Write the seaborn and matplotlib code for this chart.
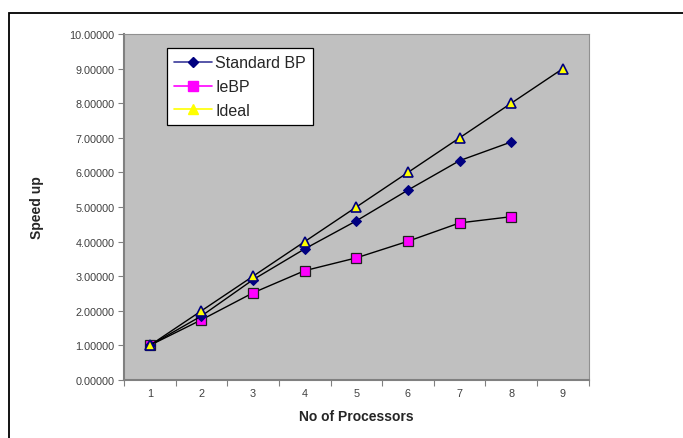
import matplotlib
matplotlib.use("Agg")
import matplotlib.pyplot as plt
import seaborn as sns
import pandas as pd
from matplotlib.lines import Line2D
from matplotlib.patches import Rectangle

processors = [1, 2, 3, 4, 5, 6, 7, 8, 9]
standard_bp = [1.00, 1.85, 2.90, 3.79, 4.60, 5.49, 6.34, 6.88]
iebp = [1.00, 1.74, 2.52, 3.16, 3.53, 4.01, 4.54, 4.72]
ideal = [1, 2, 3, 4, 5, 6, 7, 8, 9]
y_ticks = [0, 1, 2, 3, 4, 5, 6, 7, 8, 9, 10]

sns.set_theme(style="white")
plt.rcParams['font.family'] = ['Liberation Sans', 'DejaVu Sans']

fig = plt.figure(figsize=(6.83, 4.39), dpi=100)
ax = fig.add_axes([124/683, 1-381/439, (588.7-124)/683, (381-35)/439])
ax.set_facecolor('#C0C0C0')

# outer frame (cropped at right/bottom)
fig.patches.append(Rectangle((9/683, -0.1), 1.2, (439-14)/439 + 0.1, transform=fig.transFigure,
                             fill=False, edgecolor='black', linewidth=1.3, zorder=0))

df_sbp = pd.DataFrame({"x": processors[:len(standard_bp)], "y": standard_bp})
df_ie = pd.DataFrame({"x": processors[:len(iebp)], "y": iebp})
df_id = pd.DataFrame({"x": processors[:len(ideal)], "y": ideal})

sns.lineplot(data=df_ie, x="x", y="y", ax=ax, color='black', linewidth=1.0,
             marker='s', markersize=7, markerfacecolor='#FF00FF', markeredgecolor='#202020',
             markeredgewidth=0.9, zorder=3)
sns.lineplot(data=df_sbp, x="x", y="y", ax=ax, color='black', linewidth=1.0,
             marker='D', markersize=5.5, markerfacecolor='#000080', markeredgecolor='#000080',
             zorder=4)
sns.lineplot(data=df_id, x="x", y="y", ax=ax, color='black', linewidth=1.0,
             marker='^', markersize=6.5, markerfacecolor='#FFFF00', markeredgecolor='#000080',
             markeredgewidth=1.2, zorder=5)

ax.set_xlim(0.5, 9.5)
ax.set_ylim(0, 10)
ax.set_yticks(y_ticks)
ax.set_yticklabels([f"{v:.5f}" for v in y_ticks])
ax.set_xticks(processors)
ax.set_xticklabels([str(p) for p in processors])
ax.set_xticks([p + 0.5 for p in [0] + processors], minor=True)
ax.tick_params(axis='x', which='major', length=0, pad=6, labelsize=7.8, labelcolor='#404040')
ax.tick_params(axis='x', which='minor', length=4, width=0.8, color='#808080', direction='out', bottom=True)
ax.tick_params(axis='y', which='major', length=4, width=0.8, color='#808080', direction='out', left=True,
               pad=3, labelsize=7.8, labelcolor='#404040')
for side in ['left', 'bottom']:
    ax.spines[side].set_color('#808080')
    ax.spines[side].set_linewidth(1.5)
for side in ['top', 'right']:
    ax.spines[side].set_color('#909090')
    ax.spines[side].set_linewidth(0.8)

ax.set_xlabel("No of Processors", fontsize=10, fontweight='bold', labelpad=8)
ax.set_ylabel("Speed up", fontsize=10, fontweight='bold', labelpad=18)

handles = [
    Line2D([0], [0], color='#3A3A9A', lw=1.2, marker='D', markersize=5, markerfacecolor='#000080',
           markeredgecolor='#000080'),
    Line2D([0], [0], color='#FF00FF', lw=1.2, marker='s', markersize=6.5, markerfacecolor='#FF00FF',
           markeredgecolor='#FF00FF'),
    Line2D([0], [0], color='#FFFF00', lw=1.2, marker='^', markersize=7, markerfacecolor='#FFFF00',
           markeredgecolor='#FFFF00'),
]
leg = ax.legend(handles, ["Standard BP", "IeBP", "Ideal"], loc='upper left',
                bbox_to_anchor=((166.7-124)/464.7, (381-49.3)/346), fontsize=11.5,
                frameon=True, fancybox=False, edgecolor='black', framealpha=1,
                handlelength=2.4, handletextpad=0.2, borderpad=0.45, labelspacing=0.55,
                borderaxespad=0)
leg.get_frame().set_linewidth(0.9)

fig.savefig("out.png", dpi=100)
